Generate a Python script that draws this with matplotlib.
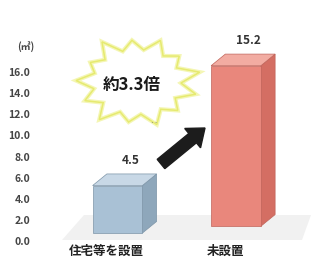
import numpy as np
import matplotlib
matplotlib.use('Agg')
from matplotlib import pyplot as plt
from matplotlib.patches import Polygon, FancyArrow

plt.rcParams['font.family'] = ['Noto Sans CJK JP', 'DejaVu Sans']

################
# Data         #
################

categories = ['住宅等を設置', '未設置']
values = [4.5, 15.2]
value_labels = ['4.5', '15.2']
yticks = [0, 2, 4, 6, 8, 10, 12, 14, 16]
ytick_labels = ['0.0', '2.0', '4.0', '6.0', '8.0', '10.0', '12.0', '14.0', '16.0']
ratio_text = '約3.3倍'
unit_text = '(㎡)'

################
# Styles       #
################

front_colors = ['#a9c1d5', '#e9877c']
top_colors = ['#c8d8e6', '#f2aca2']
side_colors = ['#8ea7bb', '#d46e63']
edge_colors = ['#7d95a8', '#c0645a']
floor_lift = [0.75, 1.4]   # perspective: the back bar stands a bit higher
bar_w = 0.42
dx, dy = 0.12, 1.1         # 3D depth offsets (data units)

W, H = 311, 263
fig = plt.figure(figsize=(W / 100, H / 100), dpi=100)

# overlay for decorations, pixel coordinates
deco = fig.add_axes([0, 0, 1, 1], zorder=0)
deco.set_xlim(0, W)
deco.set_ylim(H, 0)
deco.axis('off')

# faint floor shadow
deco.add_patch(Polygon([(62, 240), (302, 240), (311, 215), (84, 215)],
                       closed=True, facecolor='#e8e8e8', edgecolor='none', alpha=0.6))

# starburst
cx, cy = 137, 82
n = 13
outer = [1.05, 0.9, 1.0, 0.93, 1.06, 0.88, 1.0, 0.95, 1.04, 0.9, 1.0, 0.92, 1.0]
pts = []
for i in range(n):
    a = np.deg2rad(12) + 2 * np.pi * i / n
    pts.append((cx + 61 * outer[i] * np.cos(a), cy - 45 * outer[i] * np.sin(a)))
    b = a + np.pi / n
    pts.append((cx + 61 * 0.72 * np.cos(b), cy - 45 * 0.72 * np.sin(b)))
deco.add_patch(Polygon(pts, closed=True, facecolor='white', edgecolor='#f4f6b4',
                       linewidth=3.0, joinstyle='miter'))
deco.add_patch(Polygon(pts, closed=True, facecolor='none', edgecolor='#e6ea70',
                       linewidth=1.1, joinstyle='miter'))
deco.text(cx - 5, cy + 3, ratio_text, ha='center', va='center', fontsize=12,
          fontweight='bold', color='#1a1a1a')
deco.text(154, 124, '··', ha='center', va='center', fontsize=6, color='#666666')

# arrow
deco.add_patch(FancyArrow(161, 164, 44, -36, width=12, head_width=25, head_length=16,
                          length_includes_head=True, facecolor='#1c1c1c',
                          edgecolor='#1c1c1c'))

# unit label
deco.text(26, 47, unit_text, ha='center', va='center', fontsize=7,
          fontweight='bold', color='#444444')

#######################
# Main bar axes       #
#######################

left_px = 36
ax = fig.add_axes([left_px / W, 0, 1 - left_px / W, 1], zorder=1)
ax.patch.set_alpha(0)
px_per_x = 118.5
ax.set_xlim(-(117.5 - left_px) / px_per_x, (W - 117.5) / px_per_x)
px_per_y = 10.56
ax.set_ylim(-(H - 241) / px_per_y, 241 / px_per_y)

x = np.arange(len(values))
ax.bar(x, values, width=bar_w, bottom=floor_lift, color=front_colors,
       edgecolor=edge_colors, linewidth=0.5, zorder=3)

for i, (xi, v) in enumerate(zip(x, values)):
    b = floor_lift[i]
    t = b + v
    l, r = xi - bar_w / 2, xi + bar_w / 2
    # side face
    ax.add_patch(Polygon([(r, b), (r + dx, b + dy), (r + dx, t + dy), (r, t)],
                         closed=True, facecolor=side_colors[i],
                         edgecolor=edge_colors[i], linewidth=0.5, zorder=2))
    # top face
    ax.add_patch(Polygon([(l, t), (l + dx, t + dy), (r + dx, t + dy), (r, t)],
                         closed=True, facecolor=top_colors[i],
                         edgecolor=edge_colors[i], linewidth=0.5, zorder=2))
    ax.text(xi + dx * 0.9, t + dy + 1.3, value_labels[i], ha='center', va='center',
            fontsize=8.5, fontweight='bold', color='#333333')
    ax.text(xi - 0.09, -0.95, categories[i], ha='center', va='center',
            fontsize=9, fontweight='bold', color='#222222')

ax.set_yticks(yticks)
ax.set_yticklabels(ytick_labels, fontsize=7.5, fontweight='bold', color='#444444')
ax.tick_params(axis='y', length=0, pad=4)
ax.set_xticks([])
for s in ax.spines.values():
    s.set_visible(False)

plt.savefig('out.png', dpi=100)
